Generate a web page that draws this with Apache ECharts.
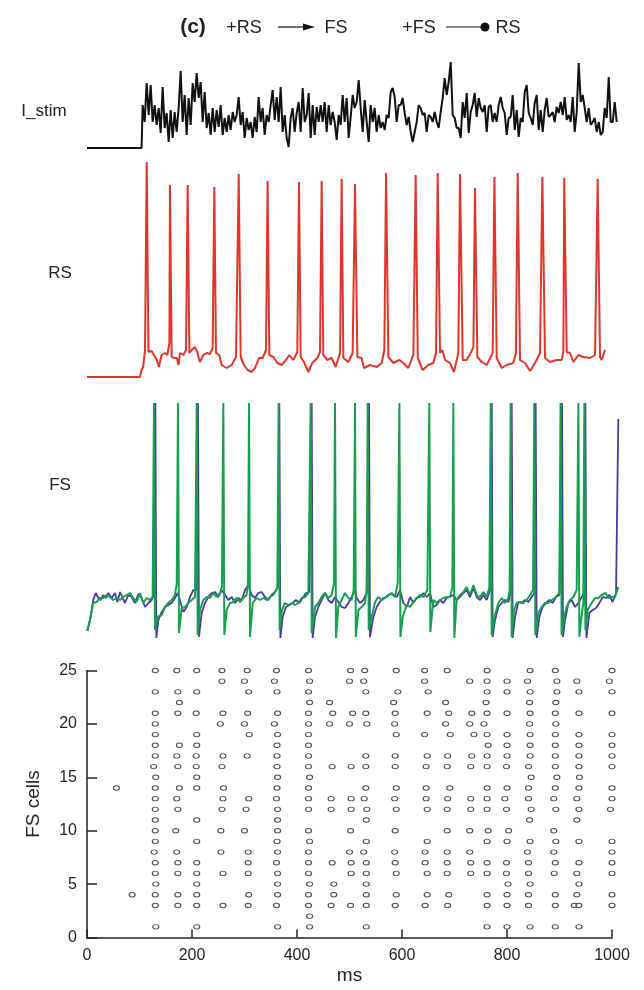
<!DOCTYPE html>
<html>
<head>
<meta charset="utf-8">
<script src="https://cdn.jsdelivr.net/npm/echarts@6/dist/echarts.min.js"></script>
<style>
  html, body { margin: 0; padding: 0; background: #fff; }
  #chart { width: 644px; height: 990px; }
</style>
</head>
<body>
<div id="chart"></div>
<script>
// I_stim: flat until the step, then one sample every stimDt ms from stimT0
const stimFlat = [[0, 0], [104, 0]];
const stimT0 = 106;
const stimDt = 3.81;
const stimValues = [
  43, 26, 65, 33, 63, 26, 43, 23, 40, 15, 61, 20, 35, 6, 38, 10, 36, 16, 40, 77,
  26, 53, 13, 50, 23, 65, 46, 75, 50, 66, 26, 56, 20, 35, 13, 40, 16, 38, 21, 43,
  13, 30, 16, 33, 18, 36, 26, 33, 51, 23, 36, 10, 30, 18, 26, 10, 31, 16, 51, 26,
  40, 13, 33, 26, 43, 58, 28, 51, 26, 61, 16, 33, 10, 1, 30, 40, 16, 35, 46, 16,
  60, 26, 33, 55, 10, 43, 13, 41, 26, 43, 26, 46, 16, 43, 23, 36, 26, 8, 33, 23,
  53, 26, 50, 10, 31, 53, 40, 46, 68, 40, 16, 48, 26, 6, 43, 26, 40, 16, 33,
  20, 26, 18, 33, 30, 56, 60, 51, 26, 43, 43, 50, 35, 23, 31, 16, 6, 16, 26, 43,
  40, 33, 35, 16, 33, 31, 26, 36, 26, 20, 36, 50, 70, 53, 66, 86, 33, 30, 20, 20,
  10, 46, 30, 55, 15, 36, 43, 55, 31, 50, 40, 36, 43, 16, 41, 43, 26, 35, 26, 43,
  51, 40, 35, 13, 30, 31, 53, 18, 38, 11, 30, 26, 56, 63, 35, 30, 23, 45, 53, 18,
  38, 16, 38, 50, 31, 33, 36, 26, 41, 35, 46, 33, 51, 28, 33, 26, 51, 16, 36, 85,
  46, 53, 40, 26, 40, 23, 26, 30, 16, 26, 13, 16, 40, 30, 71, 26, 26, 46, 26
];

// RS membrane trace [ms, level]
const rsTrace = [
  [0,0],[101,0],[104,7],[107,10],[110.5,27],[113.7,215],[117,25],[120,24],[123,26],[126,25],[133,17],[137,10],
  [142,22],[148.6,24],[153,22],[157,34],[158,192],[161.3,20],[166.4,19],[171,19],[174.6,12],[177,24],[183.5,22],
  [188.6,27],[191.8,192],[195,24],[199.4,27],[205.7,30],[210,25],[215,15],[221.6,22],[228,24],[234,23],[239.4,29],
  [242.5,190],[245.7,24],[252,22],[256.5,12],[266,9],[275.6,12],[283.8,20],[289,203],[292.7,20],[299,12],[306,7],
  [313.7,5],[320,9],[327.6,19],[334.6,19],[341,27],[344,196],[347.3,22],[355,20],[362.5,14],[370.8,12],[379,17],
  [385.4,22],[393,17],[400.6,25],[403.8,195],[407,20],[413.3,15],[421.6,5],[429,14],[438.7,19],[443.8,25],[447,196],
  [450,22],[457.8,17],[466,19],[473.6,10],[482,24],[485,198],[488.3,19],[497.8,15],[506,24],[510.5,193],[515,20],
  [523,19],[527.7,9],[539,12],[551.8,10],[561.3,14],[566.4,27],[569.6,204],[574,20],[583.5,14],[595,17],[602.6,14],
  [612,9],[621.6,22],[626,202],[630,19],[639.4,7],[650,12],[659.7,14],[664.8,24],[668,204],[672.4,24],[676.9,27],
  [682,17],[691.5,14],[699,5],[707.3,24],[710.5,203],[715.6,17],[723,17],[730.8,24],[736,30],[739,189],[743.5,20],
  [751.8,15],[761.3,12],[772.7,24],[776,200],[780.4,19],[790,9],[799.4,12],[812,14],[817,24],[820.4,204],[824.8,17],
  [834.3,14],[843.9,6],[853.4,14],[862.9,24],[867.3,200],[872.4,19],[882,15],[894.6,17],[904,17],[907.3,25],[909,199],
  [913.7,25],[920,24],[926.4,15],[936,22],[945.4,20],[958,19],[967.7,22],[972.7,198],[977.2,20],[980.4,17],[986.7,27]
];

// two FS cells [ms, level]
const fsBlue = [
  [0.6,9],[5.7,20],[12,40],[16.5,47],[21.6,42],[26,40],[31,45],[36,42],[40.6,47],[47,42],[53.3,47],[57.8,38],[63,48],
  [68,42],[72.4,37],[78.7,45],[85,43],[91.4,37],[97.8,46],[104,42],[110.5,33],[117,37],[123.2,40],[127.6,45],[130.2,237],
  [132,2],[136,20],[142.2,28],[148.6,33],[155,35],[161.3,37],[167.6,42],[172.7,47],[177,40],[183.5,28],[190,33],[196,43],
  [202.6,50],[209,50],[211.4,237],[213.3,3],[218.4,27],[224.8,37],[231,43],[237.5,47],[244,48],[250,43],[256.5,50],
  [263,45],[269.2,40],[275.6,43],[282,37],[288.3,42],[294.6,40],[301,50],[307.3,55],[313.7,45],[320,42],[326.3,47],
  [332.7,48],[339,43],[345.4,40],[351.7,45],[358,48],[363.8,53],[366.4,237],[368.3,2],[372.7,23],[379,33],[385.4,35],
  [391.7,37],[398,40],[404.5,37],[410.8,42],[417.1,47],[423.5,48],[428,237],[429.8,2],[434.3,23],[440.6,33],[447,40],
  [453.3,47],[459.7,40],[466,37],[472.4,43],[478.7,38],[485,33],[491.4,32],[497.8,37],[504,43],[510.5,50],[513.7,42],
  [520,37],[526.4,40],[532.7,47],[537.2,237],[539,3],[545.4,23],[551.8,33],[558,38],[564.5,42],[570.8,43],[577.2,46],
  [583.5,45],[590,43],[596.2,50],[602.6,37],[609,33],[615.3,43],[621.6,37],[628,42],[634.3,43],[640.7,47],[647,43],
  [653.4,47],[659.7,33],[666,35],[672.4,40],[678.8,37],[685,42],[691.5,43],[697.8,45],[704,40],[710.5,43],[717,47],
  [723,50],[729.6,43],[736,52],[742.3,43],[748.6,40],[755,45],[761.3,40],[767.7,50],[771,237],[772.7,3],[777.2,20],
  [783.5,33],[790,37],[796,40],[802.6,38],[806.4,47],[809,237],[810.8,2],[815.3,23],[821.6,38],[828,37],[834.3,40],
  [840.7,38],[847,43],[852,47],[854.6,237],[856.6,2],[861.6,23],[868,33],[874.3,37],[880.7,40],[887,37],[893.4,43],
  [899.7,45],[904.8,237],[906.7,3],[910.5,20],[917,37],[923.2,40],[929.6,33],[936,37],[942.3,43],[947.3,48],[949.3,237],
  [951.2,2],[957,27],[963.2,30],[969.6,32],[976,37],[982.3,43],[988.6,42],[995,45],[1001.3,38],[1007.7,47],[1012,221]
];
const fsGreen = [
  [0.6,9],[5.7,20],[12,37],[18.4,38],[24.8,42],[31,42],[37.5,45],[44,43],[50,40],[56.5,42],[63,40],[69,43],[75.6,45],
  [82,47],[88,42],[94.6,38],[101,47],[107,37],[113.6,42],[120,40],[125,43],[127.6,237],[129.5,10],[134,23],[142.2,25],
  [148.6,33],[155,37],[161.3,40],[167.6,45],[171,57],[173.3,237],[175.2,7],[180.3,32],[186.7,33],[193,37],[199.4,40],
  [205.7,43],[209,237],[210.8,5],[215.2,30],[221.6,40],[228,43],[234.3,42],[240.6,47],[247,43],[253.3,47],[257,53],
  [259.7,237],[261.6,5],[266,30],[272.4,37],[278.7,38],[285,42],[291.4,38],[297.8,42],[304,45],[306.7,58],[308.6,237],
  [310.5,3],[315.6,37],[323,42],[329.5,40],[336,42],[342.2,40],[348.6,43],[355,45],[362.5,52],[365,237],[367,10],
  [371.4,30],[377,37],[383.5,35],[390,37],[396.2,35],[402.5,37],[409,42],[415.2,43],[421.6,47],[426,237],[428,7],
  [434.3,33],[440.6,37],[447,43],[453.3,47],[459.7,42],[466,45],[470.5,57],[472.4,237],[474.3,2],[478.7,33],[485,40],
  [491.4,47],[497.8,42],[504,40],[508,50],[510.5,237],[512,3],[517,30],[523,33],[529.6,37],[532.7,50],[534.6,237],
  [536.6,10],[542.3,23],[548.6,38],[555,43],[561.3,40],[567.7,42],[574,45],[580.4,47],[586.7,43],[591.8,57],[595,237],
  [597,3],[601.3,23],[609,35],[615.3,33],[621.6,38],[628,42],[634.3,45],[640.7,43],[648.3,50],[652,237],[654,8],
  [659.7,40],[666,37],[672.4,40],[678.8,42],[685,43],[691.5,43],[696,53],[697.8,237],[699.7,2],[704,40],[710.5,45],
  [717,48],[723,53],[729.6,45],[736,55],[742.3,45],[748.6,43],[755,48],[761.3,43],[766.4,53],[769,237],[770.8,5],
  [776,23],[783.5,37],[790,42],[796,37],[802.6,42],[805,50],[807,237],[809,3],[813.4,30],[818.5,37],[824.8,38],
  [831,37],[837.5,40],[843.9,45],[849.6,50],[852,237],[854,5],[859.7,27],[866,33],[872.4,37],[878.8,37],[885,40],
  [891.5,42],[899.7,47],[902,237],[904,5],[908.6,23],[913.7,33],[920,40],[926.4,43],[932.7,50],[936,237],[937.8,3],
  [941,20],[945.4,37],[947.3,237],[949.3,10],[953.7,30],[961.3,37],[967.7,42],[974,42],[980.4,45],[987.7,47],
  [993,42],[999.4,43],[1005.8,43],[1012,53]
];

// raster: spike times (ms) of FS cell 1 .. 25
const rasterTimes = [
  [131, 209, 363, 424, 532, 762, 800, 844, 892, 937],
  [424],
  [130, 173, 209, 259, 307, 361, 422, 465, 502, 532, 587, 644, 687, 762, 800, 841, 892, 928, 937, 1000],
  [86, 130, 173, 209, 308, 363, 422, 470, 532, 589, 648, 689, 762, 800, 841, 892, 933, 1000],
  [131, 209, 363, 424, 470, 532, 802, 844, 937],
  [130, 173, 209, 259, 307, 363, 422, 503, 532, 589, 648, 686, 731, 762, 799, 841, 890, 933, 1000],
  [130, 173, 209, 307, 361, 422, 467, 503, 532, 587, 644, 686, 731, 762, 799, 841, 892, 937, 1000],
  [128, 171, 255, 307, 363, 422, 500, 527, 586, 644, 686, 729, 839, 889, 1000],
  [130, 209, 362, 424, 532, 648, 762, 800, 844, 893, 937, 1000],
  [130, 169, 255, 300, 363, 422, 502, 587, 686, 729, 764, 803, 889],
  [130, 209, 363, 532, 843, 933],
  [130, 173, 257, 303, 363, 422, 465, 503, 533, 589, 648, 686, 731, 762, 799, 846, 893, 937, 997],
  [130, 171, 259, 308, 361, 422, 465, 503, 528, 586, 646, 687, 731, 762, 796, 841, 889, 933, 1000],
  [56, 130, 176, 209, 260, 362, 422, 531, 589, 646, 691, 762, 800, 841, 892, 937, 1000],
  [131, 209, 363, 424, 846, 895, 938],
  [127, 173, 208, 257, 362, 422, 467, 503, 531, 587, 646, 686, 731, 762, 799, 841, 892, 937, 1000],
  [130, 171, 208, 259, 305, 362, 422, 531, 587, 648, 687, 733, 762, 800, 844, 892, 937, 1000],
  [130, 176, 209, 362, 422, 764, 800, 844, 892, 937, 1000],
  [130, 209, 309, 363, 422, 589, 643, 692, 737, 762, 800, 844, 892, 937, 1000],
  [130, 254, 300, 357, 422, 462, 500, 533, 586, 683, 729, 756, 843, 893],
  [130, 173, 208, 259, 306, 363, 422, 468, 506, 531, 587, 648, 689, 733, 762, 800, 844, 892, 937, 1000],
  [176, 424, 462, 584, 683, 760, 843, 893],
  [130, 173, 209, 308, 362, 422, 531, 592, 650, 762, 800, 844, 895, 937, 1000],
  [257, 300, 357, 424, 500, 527, 643, 729, 762, 800, 839, 895, 933, 995],
  [130, 171, 209, 257, 305, 361, 422, 502, 529, 589, 643, 686, 762, 844, 892, 1000]
];
const msTicks = [0, 200, 400, 600, 800, 1000];
const cellTicks = [0, 5, 10, 15, 20, 25];

const FONT = 'Liberation Sans, Arial, Helvetica, sans-serif';

const stimData = stimFlat.concat(stimValues.map((v, i) => [stimT0 + i * stimDt, v]));
const rasterData = [];
rasterTimes.forEach((times, i) => {
  times.forEach(t => rasterData.push([t, i + 1]));
});

const chart = echarts.init(document.getElementById('chart'), null, { renderer: 'canvas' });

function traceGrid(top, height) {
  return { left: 87, top: top, width: 535.5, height: height };
}
function hiddenX(idx) {
  return { type: 'value', gridIndex: idx, min: 0, max: 1020, show: false };
}
function hiddenY(idx, max) {
  return { type: 'value', gridIndex: idx, min: 0, max: max, show: false };
}
function label(text, x, y, size, bold) {
  return {
    type: 'text', x: x, y: y,
    style: {
      text: text, fill: '#222', font: (bold ? 'bold ' : '') + size + 'px ' + FONT,
      textAlign: 'center', textVerticalAlign: 'middle'
    }
  };
}

const option = {
  backgroundColor: '#fff',
  animation: false,
  grid: [
    traceGrid(58, 90),
    traceGrid(157, 220),
    traceGrid(403, 237),
    { left: 87, top: 670.5, width: 525, height: 267 }
  ],
  xAxis: [
    hiddenX(0), hiddenX(1), hiddenX(2),
    {
      type: 'value', gridIndex: 3, min: 0, max: 1000, interval: 200,
      name: 'ms', nameLocation: 'middle', nameGap: 29,
      nameTextStyle: { fontFamily: FONT, fontSize: 19, color: '#222' },
      axisLine: { lineStyle: { color: '#222', width: 1.5 } },
      axisTick: { inside: true, length: 8, lineStyle: { color: '#222', width: 1.5 } },
      axisLabel: { margin: 10, fontFamily: FONT, fontSize: 16, color: '#222',
        formatter: v => msTicks.includes(v) ? String(v) : '' },
      splitLine: { show: false }
    }
  ],
  yAxis: [
    hiddenY(0, 90), hiddenY(1, 220), hiddenY(2, 237),
    {
      type: 'value', gridIndex: 3, min: 0, max: 25, interval: 5,
      name: 'FS cells', nameLocation: 'middle', nameGap: 44, nameRotate: 90,
      nameTextStyle: { fontFamily: FONT, fontSize: 19, color: '#222' },
      axisLine: { show: true, lineStyle: { color: '#222', width: 1.5 } },
      axisTick: { show: true, inside: true, length: 10, lineStyle: { color: '#222', width: 1.5 } },
      axisLabel: { margin: 10, fontFamily: FONT, fontSize: 16, color: '#222',
        formatter: v => cellTicks.includes(v) ? String(v) : '' },
      splitLine: { show: false }
    }
  ],
  series: [
    {
      type: 'line', xAxisIndex: 0, yAxisIndex: 0, data: stimData,
      showSymbol: false, lineStyle: { color: '#111', width: 2 }
    },
    {
      type: 'line', xAxisIndex: 1, yAxisIndex: 1, data: rsTrace,
      showSymbol: false, lineStyle: { color: '#e0352b', width: 2 }
    },
    {
      type: 'line', xAxisIndex: 2, yAxisIndex: 2, data: fsBlue,
      showSymbol: false, lineStyle: { color: '#4a3a9e', width: 1.8 }
    },
    {
      type: 'line', xAxisIndex: 2, yAxisIndex: 2, data: fsGreen,
      showSymbol: false, lineStyle: { color: '#16a04e', width: 2 }
    },
    {
      type: 'scatter', xAxisIndex: 3, yAxisIndex: 3, data: rasterData,
      symbol: 'circle', symbolSize: [6, 4.5], clip: false,
      itemStyle: { color: '#fff', borderColor: '#222', borderWidth: 1 }
    }
  ],
  graphic: [
    label('(c)', 193, 27, 21, true),
    label('+RS', 244, 28, 18),
    { type: 'line', shape: { x1: 278, y1: 27, x2: 304, y2: 27 }, style: { stroke: '#111', lineWidth: 1.2 } },
    { type: 'polygon', shape: { points: [[303, 23.5], [315, 27], [303, 30.5]] }, style: { fill: '#111' } },
    label('FS', 336, 28, 18),
    label('+FS', 419, 28, 18),
    { type: 'line', shape: { x1: 446, y1: 27, x2: 482, y2: 27 }, style: { stroke: '#111', lineWidth: 1.2 } },
    { type: 'circle', shape: { cx: 485, cy: 27, r: 4.5 }, style: { fill: '#111' } },
    label('RS', 508, 28, 18),
    label('I_stim', 44, 111, 17),
    label('RS', 60, 273, 17),
    label('FS', 60, 485, 17)
  ]
};

chart.setOption(option);
</script>
</body>
</html>
